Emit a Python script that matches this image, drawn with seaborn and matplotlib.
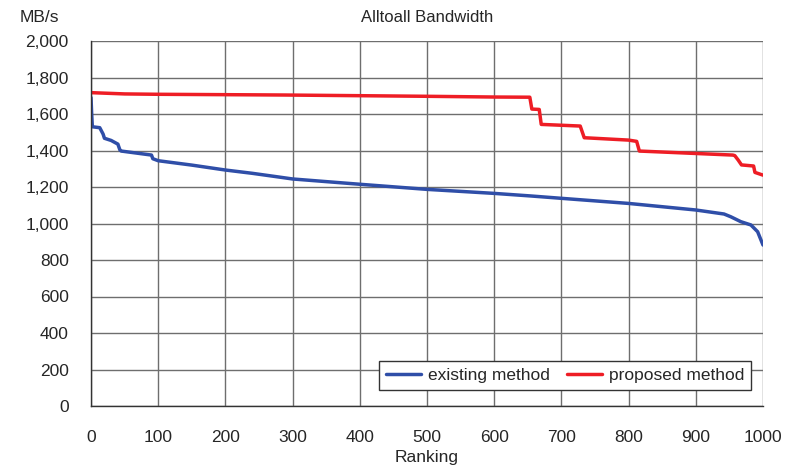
import pandas as pd
import matplotlib
matplotlib.use("Agg")
import matplotlib.pyplot as plt
import matplotlib.ticker as mticker
import seaborn as sns

# ---- data ----
existing_rank = [0, 1, 2, 13, 18, 20, 30, 40, 43, 45, 90, 92, 100, 150, 200, 240,
                 275, 300, 400, 500, 600, 654, 700, 800, 900, 942, 952, 967, 982,
                 992, 1000]
existing_bw = [1690, 1600, 1530, 1525, 1490, 1467, 1455, 1435, 1403, 1397, 1375,
               1355, 1344, 1320, 1293, 1275, 1257, 1244, 1215, 1187, 1165, 1151,
               1138, 1110, 1074, 1052, 1037, 1010, 992, 955, 882]

proposed_rank = [0, 50, 100, 289, 500, 600, 653, 656, 667, 670, 728, 734, 800,
                 812, 816, 955, 958, 963, 968, 986, 988, 1000]
proposed_bw = [1717, 1710, 1708, 1704, 1697, 1693, 1692, 1627, 1625, 1543, 1534,
               1470, 1457, 1450, 1397, 1375, 1372, 1348, 1321, 1315, 1280, 1265]

df = pd.concat([
    pd.DataFrame({"Ranking": existing_rank, "MB/s": existing_bw, "method": "existing method"}),
    pd.DataFrame({"Ranking": proposed_rank, "MB/s": proposed_bw, "method": "proposed method"}),
])

sns.set_style("white")
plt.rcParams['font.family'] = ['Liberation Sans', 'DejaVu Sans']

fig = plt.figure(figsize=(7.94, 4.70), dpi=100)
ax = fig.add_axes([91 / 794, 1 - 406 / 470, 672 / 794, 365 / 470])

sns.lineplot(data=df, x="Ranking", y="MB/s", hue="method",
             palette={"existing method": "#2F4EA8", "proposed method": "#EE1D25"},
             linewidth=2.5, ax=ax, sort=False, estimator=None)

ax.set_xlim(0, 1000)
ax.set_ylim(0, 2000)
ax.set_xticks(range(0, 1001, 100))
ax.set_yticks(range(0, 2001, 200))
ax.yaxis.set_major_formatter(mticker.FuncFormatter(lambda v, p: f"{v:,.0f}"))
ax.grid(True, color="#6e6e6e", linewidth=1.0)
ax.set_axisbelow(True)
for side in ["top", "right"]:
    ax.spines[side].set_visible(False)
for side in ["left", "bottom"]:
    ax.spines[side].set_color("#333333")
    ax.spines[side].set_linewidth(1.0)
ax.tick_params(axis="y", direction="inout", length=6, color="#333333",
               labelsize=12.5, pad=13)
ax.tick_params(axis="x", direction="in", length=0, labelsize=12.5, pad=17)
ax.set_xlabel("Ranking", fontsize=12.5, labelpad=4)
ax.set_ylabel("")

fig.text(20 / 794, 1 - 18 / 470, "MB/s", fontsize=12.5, va="center", ha="left")
fig.text(427 / 794, 1 - 18 / 470, "Alltoall Bandwidth", fontsize=12, va="center", ha="center")

leg = ax.legend(loc="lower right", bbox_to_anchor=(0.982, 0.044), ncol=2,
                frameon=True, fancybox=False, fontsize=12.5, handlelength=2.0,
                handletextpad=0.4, columnspacing=1.0, borderpad=0.4,
                borderaxespad=0)
leg.get_frame().set_edgecolor("#333333")
leg.get_frame().set_linewidth(1.0)
leg.get_frame().set_alpha(1)

fig.savefig("out.png", dpi=100, facecolor="white")
